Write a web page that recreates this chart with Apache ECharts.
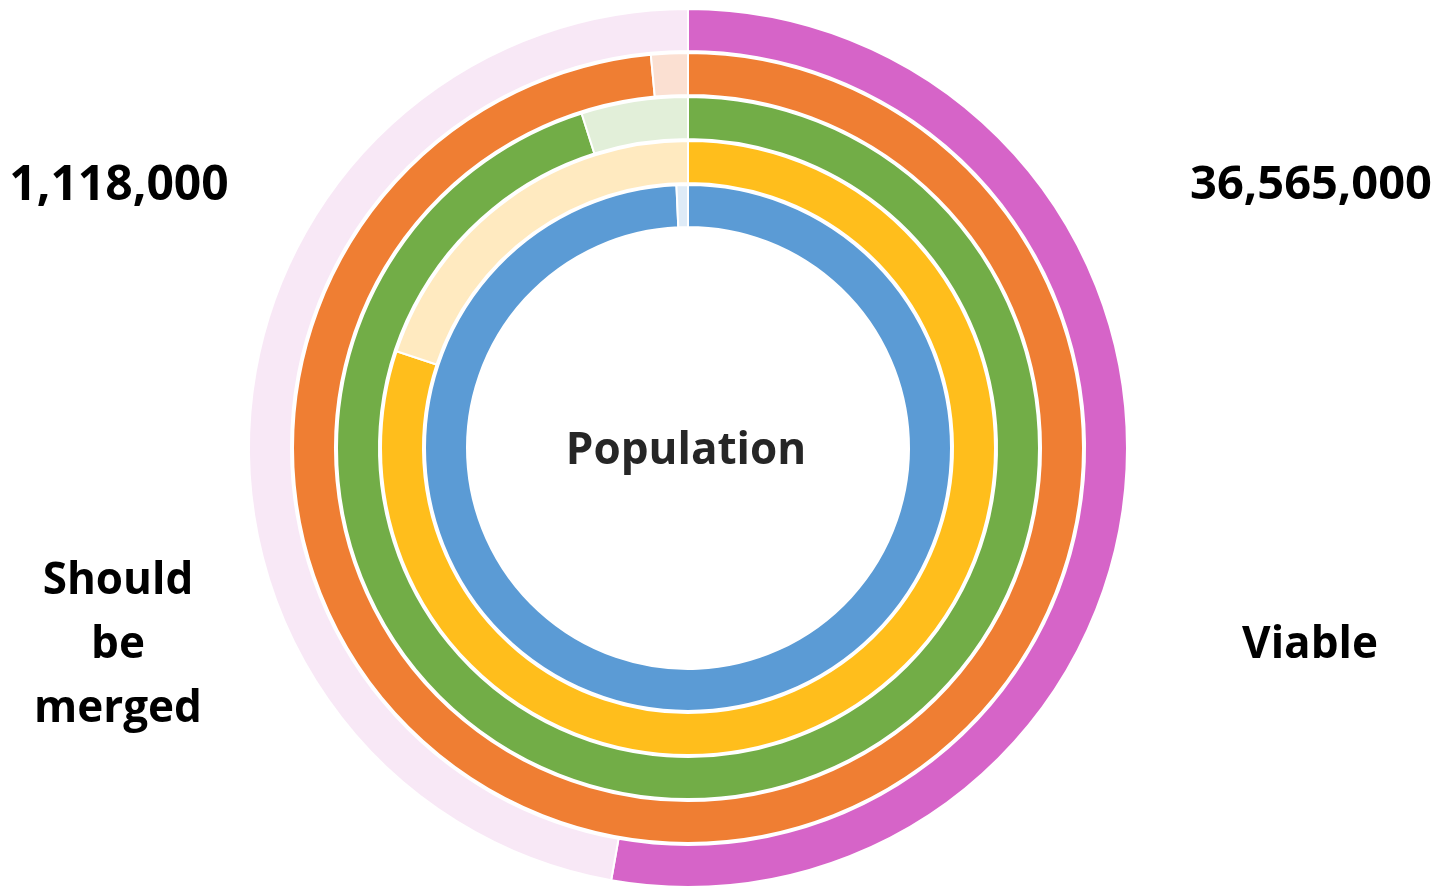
<!DOCTYPE html>
<html>
<head>
<meta charset="utf-8">
<title>Population</title>
<script src="https://cdn.jsdelivr.net/npm/echarts@6/dist/echarts.min.js"></script>
<style>
  html, body { margin: 0; padding: 0; background: #ffffff; }
  #chart { width: 1443px; height: 888px; }
</style>
</head>
<body>
<div id="chart"></div>
<script>
// rings from inside out: share of each ring that is kept (coloured) vs. faded remainder
const ringNames = ["Ring 1", "Ring 2", "Ring 3", "Ring 4", "Ring 5"];
const keptShare = [99.3, 80.1, 95.1, 98.5, 52.8];
const fadedShare = [0.7, 19.9, 4.9, 1.5, 47.2];
const ringColors = ["#5B9BD5", "#FFBE1C", "#72AD47", "#EF7E33", "#D664C8"];
const fadedColors = ["#DEEBF7", "#FFEAC0", "#E2EFD9", "#FBE0D2", "#F8E8F6"];
const ringRadii = [[221, 263], [265, 307], [309, 351], [353, 395], [397, 439]];

const centerText = "Population";
const leftValue = "1,118,000";
const rightValue = "36,565,000";
const leftLabel = "Should\nbe\nmerged";
const rightLabel = "Viable";

const chart = echarts.init(document.getElementById("chart"));

const series = ringNames.map((name, i) => ({
  name: name,
  type: "pie",
  center: [688, 448],
  radius: ringRadii[i],
  startAngle: 90,
  clockwise: true,
  silent: true,
  label: { show: false },
  labelLine: { show: false },
  itemStyle: { borderColor: "#ffffff", borderWidth: 2 },
  data: [
    { name: "kept", value: keptShare[i], itemStyle: { color: ringColors[i] } },
    { name: "faded", value: fadedShare[i], itemStyle: { color: fadedColors[i] } },
  ],
}));

const textStyle = (text, x, y, color, size) => ({
  type: "text",
  x: x,
  y: y,
  style: {
    text: text,
    fill: color,
    font: "bold " + size + "px 'Open Sans', sans-serif",
    align: "center",
    verticalAlign: "middle",
    lineHeight: 64,
  },
});

const options = {
  animation: false,
  series: series,
  graphic: [
    textStyle(centerText, 686, 451, "#262626", 44),
    textStyle(leftValue, 119, 186, "#000000", 48),
    textStyle(rightValue, 1311, 186, "#000000", 47),
    textStyle(leftLabel, 118, 645, "#000000", 44),
    textStyle(rightLabel, 1310, 645, "#000000", 44),
  ],
};

chart.setOption(options);
</script>
</body>
</html>
